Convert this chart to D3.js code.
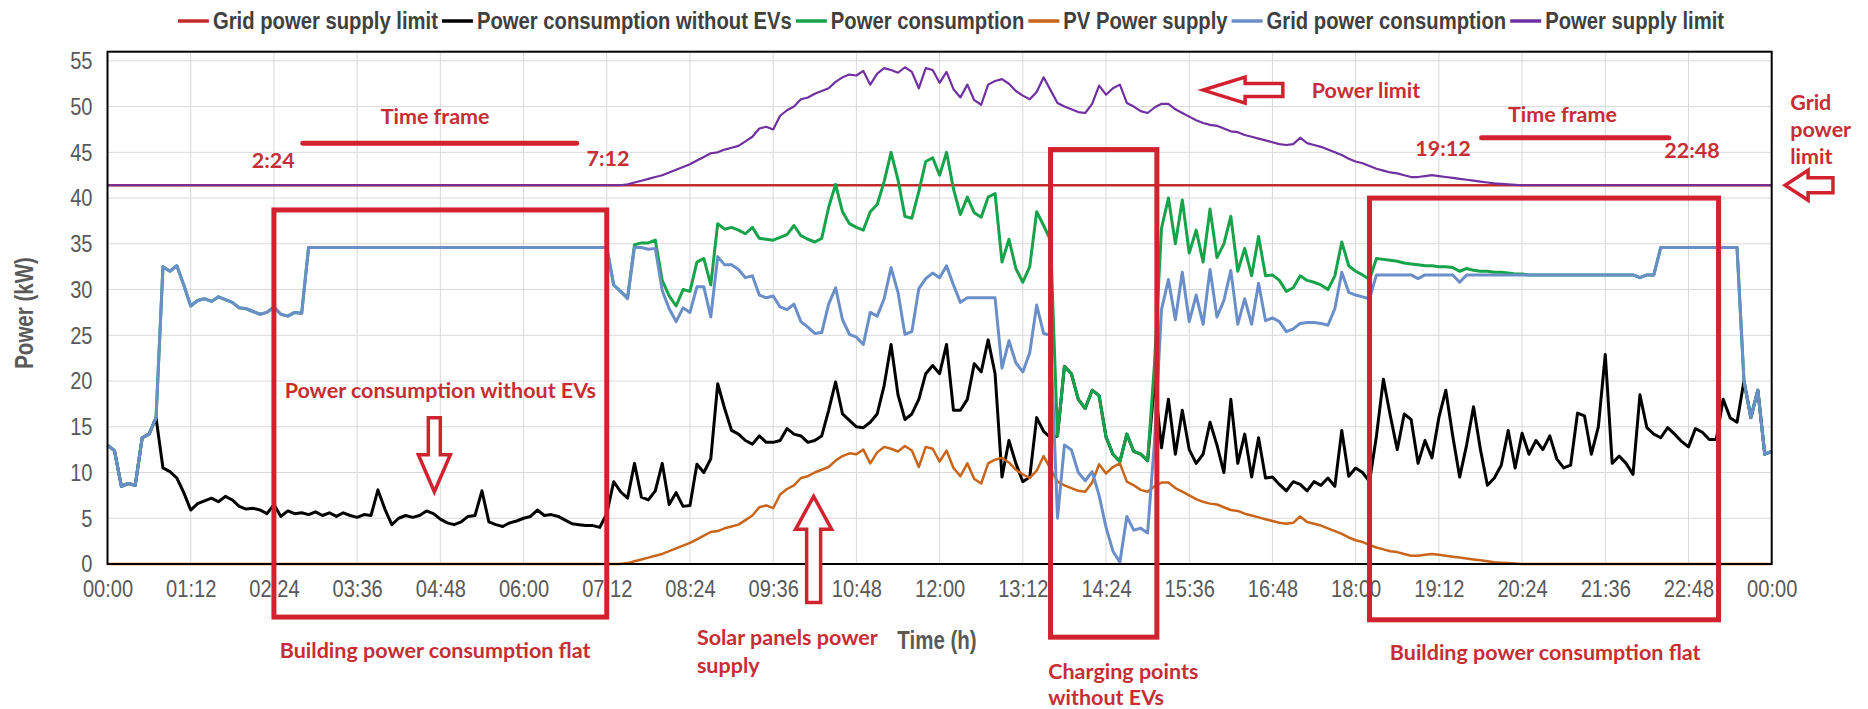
<!DOCTYPE html>
<html>
<head>
<meta charset="utf-8">
<script src="https://cdn.jsdelivr.net/npm/d3@7"></script>
<style>
  html, body { margin: 0; padding: 0; background: #ffffff; }
  svg { display: block; }
</style>
</head>
<body>
<svg id="chart" width="1868" height="709"></svg>
<script>
// ---- Data: one sample every 6 minutes, 00:00 to 24:00 (241 samples) ----
const stepMinutes = 6;
const gridLimit = 41.4; // kW

const seriesNames = [
  "Grid power supply limit",
  "Power consumption without EVs",
  "Power consumption",
  "PV Power supply",
  "Grid power consumption",
  "Power supply limit"
];

const tickLabels = ["00:00","01:12","02:24","03:36","04:48","06:00","07:12","08:24","09:36","10:48",
  "12:00","13:12","14:24","15:36","16:48","18:00","19:12","20:24","21:36","22:48","00:00"];
const yTickValues = [0,5,10,15,20,25,30,35,40,45,50,55];

const consumptionWithoutEVs = [
  13.0,12.4,8.5,8.8,8.6,13.8,14.2,16.0,10.5,10.1,
  9.4,7.8,5.9,6.6,6.9,7.2,6.8,7.4,7.0,6.3,
  6.0,6.1,5.9,5.5,6.5,5.2,5.8,5.5,5.6,5.4,
  5.7,5.3,5.6,5.2,5.6,5.3,5.1,5.4,5.3,8.1,
  6.0,4.3,5.0,5.3,5.1,5.3,5.8,5.5,4.9,4.5,
  4.3,4.6,5.2,5.3,8.0,4.6,4.3,4.1,4.5,4.7,
  5.0,5.2,5.9,5.3,5.4,5.2,4.8,4.4,4.3,4.2,
  4.2,4.0,5.5,9.0,7.9,7.2,11.0,7.3,7.0,8.0,
  11.0,6.5,7.8,6.3,6.4,10.9,10.0,11.5,19.7,17.0,
  14.6,14.2,13.5,13.1,14.0,13.3,13.3,13.5,14.8,14.2,
  14.0,13.3,13.5,14.0,16.8,19.9,16.4,15.7,15.0,14.9,
  15.5,16.4,19.5,24.0,18.5,15.8,16.4,18.0,20.8,21.7,
  20.8,24.0,16.8,16.8,18.0,21.9,21.0,24.5,20.8,9.5,
  13.5,11.0,9.0,9.5,16.0,14.5,13.8,14.0,21.6,20.8,
  18.0,17.0,19.0,18.4,13.9,12.0,11.2,14.2,12.3,12.0,
  11.3,20.0,12.7,18.0,12.0,16.8,12.5,11.0,12.0,15.5,
  13.0,10.0,18.0,11.0,14.2,9.5,13.8,9.4,9.5,8.7,
  8.0,9.0,8.7,8.0,9.0,8.6,9.4,8.5,14.6,9.6,
  10.5,10.0,9.0,14.0,20.2,16.2,12.5,16.4,15.8,11.0,
  13.5,11.6,16.0,19.0,14.0,9.5,13.0,17.2,12.5,8.6,
  9.4,10.8,14.6,10.5,14.3,12.0,13.5,12.5,14.0,11.5,
  10.5,10.8,16.5,16.2,12.0,15.0,22.9,11.0,11.8,11.0,
  9.8,18.5,14.9,14.2,13.8,14.9,14.2,13.4,12.8,14.8,
  14.4,13.6,13.6,18.0,16.0,15.5,20.0,16.0,19.0,12.0,
  12.3
];

const powerConsumption = [
  13.0,12.4,8.5,8.8,8.6,13.8,14.2,16.0,32.5,32.0,
  32.6,30.5,28.2,28.8,29.0,28.7,29.2,28.9,28.6,28.0,
  27.9,27.6,27.3,27.5,28.1,27.3,27.1,27.5,27.4,34.6,
  34.6,34.6,34.6,34.6,34.6,34.6,34.6,34.6,34.6,34.6,
  34.6,34.6,34.6,34.6,34.6,34.6,34.6,34.6,34.6,34.6,
  34.6,34.6,34.6,34.6,34.6,34.6,34.6,34.6,34.6,34.6,
  34.6,34.6,34.6,34.6,34.6,34.6,34.6,34.6,34.6,34.6,
  34.6,34.6,34.6,30.5,29.8,29.1,34.9,35.1,35.1,35.4,
  31.0,29.3,28.2,30.0,29.8,33.0,33.4,30.5,37.2,36.6,
  36.8,36.5,36.1,36.8,35.6,35.5,35.4,35.7,36.0,37.0,
  35.9,35.5,35.2,35.6,39.0,41.5,38.5,37.2,36.8,36.5,
  38.5,39.3,41.8,45.0,42.0,38.0,37.8,40.7,44.0,44.4,
  42.5,45.0,41.0,38.2,40.1,38.4,37.9,40.1,40.5,33.0,
  35.5,32.3,30.8,32.5,38.5,37.0,35.4,14.0,21.6,20.8,
  18.0,17.0,19.0,18.4,13.9,12.0,11.2,14.2,12.3,12.0,
  11.3,22.0,36.7,40.0,35.0,39.8,34.0,36.5,33.0,38.8,
  33.5,35.0,38.0,32.0,34.5,31.5,35.8,31.5,31.6,31.0,
  29.8,30.2,31.5,31.0,30.8,30.5,30.0,31.5,35.2,32.6,
  32.0,31.6,31.1,33.4,33.3,33.2,33.1,32.9,32.8,32.7,
  32.6,32.6,32.5,32.5,32.4,32.0,32.3,32.1,32.0,32.0,
  31.9,31.9,31.8,31.7,31.7,31.6,31.6,31.6,31.6,31.6,
  31.6,31.6,31.6,31.6,31.6,31.6,31.6,31.6,31.6,31.6,
  31.6,31.3,31.6,31.6,34.6,34.6,34.6,34.6,34.6,34.6,
  34.6,34.6,34.6,34.6,34.6,34.6,20.0,16.0,19.0,12.0,
  12.3
];

const pvSupply = [
  0,0,0,0,0,0,0,0,0,0,
  0,0,0,0,0,0,0,0,0,0,
  0,0,0,0,0,0,0,0,0,0,
  0,0,0,0,0,0,0,0,0,0,
  0,0,0,0,0,0,0,0,0,0,
  0,0,0,0,0,0,0,0,0,0,
  0,0,0,0,0,0,0,0,0,0,
  0,0,0,0,0,0.1,0.3,0.5,0.7,0.9,
  1.1,1.4,1.7,2.0,2.3,2.7,3.1,3.5,3.6,3.9,
  4.1,4.3,4.8,5.3,6.2,6.4,6.1,7.6,8.2,8.6,
  9.4,9.6,10.0,10.3,10.6,11.3,11.8,12.1,12.0,12.5,
  11.0,12.2,12.8,12.6,12.3,12.9,12.4,10.6,12.8,12.6,
  11.2,12.4,10.5,9.6,11.0,9.3,8.8,11.0,11.4,11.6,
  11.1,10.3,9.8,9.4,10.2,11.8,10.4,9.0,8.6,8.3,
  8.0,7.9,8.9,10.9,9.9,10.6,11.0,9.0,8.6,8.1,
  7.9,8.5,8.9,8.9,8.3,7.9,7.5,7.1,6.8,6.6,
  6.5,6.2,5.9,5.8,5.5,5.3,5.1,4.9,4.7,4.5,
  4.4,4.5,5.2,4.6,4.4,4.2,3.9,3.6,3.3,2.9,
  2.6,2.4,2.1,1.8,1.6,1.4,1.3,1.1,0.9,0.9,
  1.0,1.1,1.0,0.9,0.8,0.7,0.6,0.5,0.4,0.3,
  0.2,0.15,0.1,0.05,0,0,0,0,0,0,
  0,0,0,0,0,0,0,0,0,0,
  0,0,0,0,0,0,0,0,0,0,
  0,0,0,0,0,0,0,0,0,0,
  0
];

const gridConsumption = [
  13.0,12.4,8.5,8.8,8.6,13.8,14.2,16.0,32.5,32.0,
  32.6,30.5,28.2,28.8,29.0,28.7,29.2,28.9,28.6,28.0,
  27.9,27.6,27.3,27.5,28.1,27.3,27.1,27.5,27.4,34.6,
  34.6,34.6,34.6,34.6,34.6,34.6,34.6,34.6,34.6,34.6,
  34.6,34.6,34.6,34.6,34.6,34.6,34.6,34.6,34.6,34.6,
  34.6,34.6,34.6,34.6,34.6,34.6,34.6,34.6,34.6,34.6,
  34.6,34.6,34.6,34.6,34.6,34.6,34.6,34.6,34.6,34.6,
  34.6,34.6,34.6,30.5,29.8,29.0,34.6,34.6,34.4,34.5,
  29.9,27.9,26.5,28.0,27.5,30.3,30.3,27.0,33.6,32.7,
  32.7,32.2,31.3,31.5,29.4,29.1,29.3,28.1,27.8,28.4,
  26.5,25.9,25.2,25.3,28.4,30.2,26.7,25.1,24.8,24.0,
  27.5,27.1,29.0,32.4,29.7,25.1,25.4,30.1,31.2,31.8,
  31.3,32.6,30.5,28.6,29.1,29.1,29.1,29.1,29.1,21.4,
  24.4,22.0,21.0,23.1,28.3,25.2,25.0,5.0,13.0,12.5,
  10.0,9.1,10.1,7.5,4.0,1.4,0.2,5.2,3.7,3.9,
  3.4,13.5,27.8,31.1,26.7,31.9,26.5,29.4,26.2,32.2,
  27.0,28.8,32.1,26.2,29.0,26.2,30.7,26.6,26.9,26.5,
  25.4,25.7,26.3,26.4,26.4,26.3,26.1,27.9,31.9,29.7,
  29.4,29.2,29.0,31.6,31.6,31.6,31.6,31.6,31.6,31.2,
  31.6,31.6,31.6,31.6,31.6,30.8,31.6,31.6,31.6,31.6,
  31.6,31.6,31.6,31.6,31.6,31.6,31.6,31.6,31.6,31.6,
  31.6,31.6,31.6,31.6,31.6,31.6,31.6,31.6,31.6,31.6,
  31.6,31.3,31.6,31.6,34.6,34.6,34.6,34.6,34.6,34.6,
  34.6,34.6,34.6,34.6,34.6,34.6,20.0,16.0,19.0,12.0,
  12.3
];

const powerSupplyLimit = [
  41.4,41.4,41.4,41.4,41.4,41.4,41.4,41.4,41.4,41.4,
  41.4,41.4,41.4,41.4,41.4,41.4,41.4,41.4,41.4,41.4,
  41.4,41.4,41.4,41.4,41.4,41.4,41.4,41.4,41.4,41.4,
  41.4,41.4,41.4,41.4,41.4,41.4,41.4,41.4,41.4,41.4,
  41.4,41.4,41.4,41.4,41.4,41.4,41.4,41.4,41.4,41.4,
  41.4,41.4,41.4,41.4,41.4,41.4,41.4,41.4,41.4,41.4,
  41.4,41.4,41.4,41.4,41.4,41.4,41.4,41.4,41.4,41.4,
  41.4,41.4,41.4,41.4,41.4,41.5,41.7,41.9,42.1,42.3,
  42.5,42.8,43.1,43.4,43.7,44.1,44.5,44.9,45.0,45.3,
  45.5,45.7,46.2,46.7,47.6,47.8,47.5,49.0,49.6,50.0,
  50.8,51.0,51.4,51.7,52.0,52.7,53.2,53.5,53.4,53.9,
  52.4,53.6,54.2,54.0,53.7,54.3,53.8,52.0,54.2,54.0,
  52.6,53.8,51.9,51.0,52.4,50.7,50.2,52.4,52.8,53.0,
  52.5,51.7,51.2,50.8,51.6,53.2,51.8,50.4,50.0,49.7,
  49.4,49.3,50.3,52.3,51.3,52.0,52.4,50.4,50.0,49.5,
  49.3,49.9,50.3,50.3,49.7,49.3,48.9,48.5,48.2,48.0,
  47.9,47.6,47.3,47.2,46.9,46.7,46.5,46.3,46.1,45.9,
  45.8,45.9,46.6,46.0,45.8,45.6,45.3,45.0,44.7,44.3,
  44.0,43.8,43.5,43.2,43.0,42.8,42.7,42.5,42.3,42.3,
  42.4,42.5,42.4,42.3,42.2,42.1,42.0,41.9,41.8,41.7,
  41.6,41.55,41.5,41.45,41.4,41.4,41.4,41.4,41.4,41.4,
  41.4,41.4,41.4,41.4,41.4,41.4,41.4,41.4,41.4,41.4,
  41.4,41.4,41.4,41.4,41.4,41.4,41.4,41.4,41.4,41.4,
  41.4,41.4,41.4,41.4,41.4,41.4,41.4,41.4,41.4,41.4,
  41.4
];

// ---- Annotations (time in minutes, value in kW) ----
const noteBoxes = [
  { t0: 144, t1: 432, top: 38.7, bottom: -5.8 },
  { t0: 816, t1: 908, top: 45.3, bottom: -8.0 },
  { t0: 1092, t1: 1394, top: 40.0, bottom: -6.1 }
];
const timeFrames = [
  { t0: 169, t1: 406, v: 46.0 },
  { t0: 1189, t1: 1351, v: 46.6 }
];
const noteLabels = [
  { text: "Time frame", t: 283.5, v: 49.0, anchor: "middle" },
  { text: "2:24", t: 143.4, v: 44.2, anchor: "middle" },
  { text: "7:12", t: 433, v: 44.4, anchor: "middle" },
  { text: "Time frame", t: 1259, v: 49.2, anchor: "middle" },
  { text: "19:12", t: 1155.6, v: 45.5, anchor: "middle" },
  { text: "22:48", t: 1371, v: 45.3, anchor: "middle" },
  { text: "Power limit", t: 1042, v: 51.8, anchor: "start" },
  { text: "Grid", t: 1456, v: 50.5, anchor: "start" },
  { text: "power", t: 1456, v: 47.6, anchor: "start" },
  { text: "limit", t: 1456, v: 44.6, anchor: "start" },
  { text: "Power consumption without EVs", t: 288, v: 19.0, anchor: "middle" },
  { text: "Building power consumption flat", t: 283.5, v: -9.4, anchor: "middle" },
  { text: "Building power consumption flat", t: 1244, v: -9.6, anchor: "middle" },
  { text: "Solar panels power", t: 510, v: -8.0, anchor: "start" },
  { text: "supply", t: 510, v: -11.0, anchor: "start" },
  { text: "Charging points", t: 814, v: -11.7, anchor: "start" },
  { text: "without EVs", t: 814, v: -14.5, anchor: "start" }
];
const noteArrows = [
  { fromT: 282.8, fromV: 16.0, t: 282.8, v: 7.9, head: 37, headW: 32, shaftW: 12 },
  { fromT: 611, fromV: -4.2, t: 611, v: 7.4, head: 33, headW: 36, shaftW: 14 },
  { fromT: 1017, fromV: 51.8, t: 948, v: 51.8, head: 42, headW: 26, shaftW: 13 },
  { fromT: 1493, fromV: 41.4, t: 1451.6, v: 41.4, head: 23, headW: 30, shaftW: 15 }
];

// ---- Layout & scales ----
const W = 1868, H = 709;
const plot = { left: 107.5, right: 1771.7, top: 51.7, bottom: 564 };
const x = d3.scaleLinear().domain([0, 1440]).range([plot.left, plot.right]);
const y = d3.scaleLinear().domain([0, 56]).range([plot.bottom, plot.top]);

// Chart text uses a horizontally condensed sans (narrow style)
const chartFont = "'Liberation Sans', Arial, sans-serif";
const condense = 0.82;
const noteFont = "Lato, 'Open Sans', sans-serif";
const noteRed = "#d3222f";
const noteText = "#c62d35";

const colors = {
  gridLimit: "#c42b2b",
  withoutEVs: "#000000",
  consumption: "#17a34a",
  pv: "#c8651b",
  grid: "#6a8fc8",
  supplyLimit: "#7030a0"
};

const svg = d3.select("#chart");
svg.append("rect").attr("width", W).attr("height", H).attr("fill", "#ffffff");

// Condense a text element horizontally around its anchor point
function narrowText(sel) {
  sel.each(function () {
    const t = d3.select(this);
    const tx = +t.attr("x") || 0, ty = +t.attr("y") || 0;
    t.attr("x", 0).attr("y", 0)
      .attr("transform", `translate(${tx},${ty}) scale(${condense},1)`);
  });
}

// Gridlines
const gridG = svg.append("g");
gridG.selectAll("line.h").data(yTickValues.slice(1)).join("line")
  .attr("class", "h")
  .attr("x1", plot.left).attr("x2", plot.right)
  .attr("y1", d => y(d)).attr("y2", d => y(d))
  .attr("stroke", "#d9d9d9").attr("stroke-width", 1);
const xTickValues = tickLabels.map((_, i) => i * 72);
gridG.selectAll("line.v").data(xTickValues.slice(1, -1)).join("line")
  .attr("class", "v")
  .attr("x1", d => x(d)).attr("x2", d => x(d))
  .attr("y1", plot.top).attr("y2", plot.bottom)
  .attr("stroke", "#d9d9d9").attr("stroke-width", 1);

// Axes (labels only)
const xAxis = d3.axisBottom(x).tickValues(xTickValues)
  .tickFormat((d, i) => tickLabels[i]).tickSize(0).tickPadding(16);
const gx = svg.append("g").attr("transform", `translate(0,${plot.bottom})`).call(xAxis);
gx.select(".domain").remove();
gx.selectAll("text").attr("font-family", chartFont).attr("font-size", 24.5).attr("fill", "#595959")
  .call(narrowText);

const yAxis = d3.axisLeft(y).tickValues(yTickValues).tickSize(0).tickPadding(15);
const gy = svg.append("g").attr("transform", `translate(${plot.left},0)`).call(yAxis);
gy.select(".domain").remove();
gy.selectAll("text").attr("font-family", chartFont).attr("font-size", 24.5).attr("fill", "#595959")
  .call(narrowText);

// Axis titles
svg.append("text").attr("transform", `translate(937,640) scale(${condense},1)`)
  .attr("text-anchor", "middle").attr("dominant-baseline", "central")
  .attr("font-family", chartFont).attr("font-size", 25).attr("font-weight", "bold").attr("fill", "#595959")
  .text("Time (h)");
svg.append("text").attr("transform", `translate(24,313) rotate(-90) scale(${condense},1)`)
  .attr("text-anchor", "middle").attr("dominant-baseline", "central")
  .attr("font-family", chartFont).attr("font-size", 25).attr("font-weight", "bold").attr("fill", "#595959")
  .text("Power (kW)");

// Series lines
const line = d3.line().x((d, i) => x(i * stepMinutes)).y(d => y(d));
const seriesG = svg.append("g");
seriesG.append("path").datum([gridLimit, gridLimit])
  .attr("d", d3.line().x((d, i) => x(i * 1440)).y(d => y(d)))
  .attr("fill", "none").attr("stroke", colors.gridLimit).attr("stroke-width", 2.5);
const drawn = [
  { values: consumptionWithoutEVs, color: colors.withoutEVs, w: 3 },
  { values: powerConsumption, color: colors.consumption, w: 3 },
  { values: pvSupply, color: colors.pv, w: 2.5 },
  { values: gridConsumption, color: colors.grid, w: 3 },
  { values: powerSupplyLimit, color: colors.supplyLimit, w: 2.2 }
];
drawn.forEach(s => {
  seriesG.append("path").datum(s.values).attr("d", line)
    .attr("fill", "none").attr("stroke", s.color).attr("stroke-width", s.w)
    .attr("stroke-linejoin", "round");
});

// Plot border
svg.append("rect").attr("x", plot.left).attr("y", plot.top)
  .attr("width", plot.right - plot.left).attr("height", plot.bottom - plot.top)
  .attr("fill", "none").attr("stroke", "#000000").attr("stroke-width", 2);

// Annotations
const noteG = svg.append("g");
noteG.selectAll("rect").data(noteBoxes).join("rect")
  .attr("x", d => x(d.t0)).attr("y", d => y(d.top))
  .attr("width", d => x(d.t1) - x(d.t0)).attr("height", d => y(d.bottom) - y(d.top))
  .attr("fill", "none").attr("stroke", noteRed).attr("stroke-width", 5);
noteG.selectAll("line.tf").data(timeFrames).join("line")
  .attr("class", "tf")
  .attr("x1", d => x(d.t0)).attr("x2", d => x(d.t1))
  .attr("y1", d => y(d.v)).attr("y2", d => y(d.v))
  .attr("stroke", noteRed).attr("stroke-width", 5).attr("stroke-linecap", "round");

function arrowPath(a) {
  const x0 = x(a.fromT), y0 = y(a.fromV), x1 = x(a.t), y1 = y(a.v);
  const len = Math.hypot(x1 - x0, y1 - y0);
  const ux = (x1 - x0) / len, uy = (y1 - y0) / len;
  const px = -uy, py = ux;
  const nx = x1 - ux * a.head, ny = y1 - uy * a.head;
  const s = a.shaftW / 2, h = a.headW / 2;
  const pts = [
    [x0 + px * s, y0 + py * s], [nx + px * s, ny + py * s], [nx + px * h, ny + py * h],
    [x1, y1],
    [nx - px * h, ny - py * h], [nx - px * s, ny - py * s], [x0 - px * s, y0 - py * s]
  ];
  return "M" + pts.map(p => p.join(",")).join("L") + "Z";
}
noteG.selectAll("path.arrow").data(noteArrows).join("path")
  .attr("class", "arrow")
  .attr("d", arrowPath)
  .attr("fill", "#ffffff").attr("stroke", noteRed).attr("stroke-width", 3.5)
  .attr("stroke-linejoin", "miter");

noteG.selectAll("text").data(noteLabels).join("text")
  .attr("x", d => x(d.t)).attr("y", d => y(d.v))
  .attr("text-anchor", d => d.anchor).attr("dominant-baseline", "central")
  .attr("font-family", noteFont).attr("font-size", 21.5).attr("font-weight", "bold")
  .attr("fill", noteText)
  .text(d => d.text);

// Legend
const legendColors = [colors.gridLimit, colors.withoutEVs, colors.consumption, colors.pv, colors.grid, colors.supplyLimit];
const legendG = svg.append("g");
let cursor = 0;
seriesNames.forEach((name, i) => {
  const item = legendG.append("g").attr("transform", `translate(${cursor},0)`);
  item.append("line").attr("x1", 0).attr("x2", 31).attr("y1", 0).attr("y2", 0)
    .attr("stroke", legendColors[i]).attr("stroke-width", 3.5);
  const t = item.append("text").attr("transform", `translate(35,0) scale(${condense},1)`)
    .attr("dominant-baseline", "central")
    .attr("font-family", chartFont).attr("font-size", 24.7).attr("font-weight", "bold").attr("fill", "#404040")
    .text(name);
  cursor += 35 + t.node().getComputedTextLength() * condense + 4;
});
const legendWidth = cursor - 4;
legendG.attr("transform", `translate(${951 - legendWidth / 2},21)`);
</script>
</body>
</html>
